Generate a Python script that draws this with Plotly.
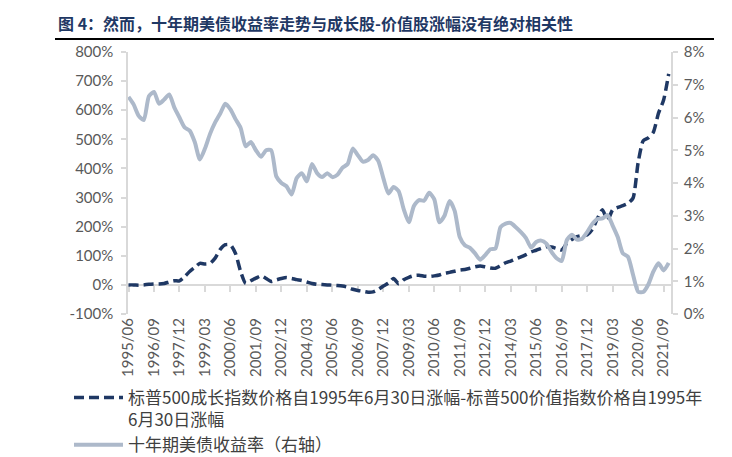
import plotly.graph_objects as go

# quarterly categories, 1995/06 .. 2021/12
quarters = [f"{1995 + (5 + 3 * i) // 12}/{(5 + 3 * i) % 12 + 1:02d}" for i in range(107)]

# S&P 500 growth minus value, % change since 1995-06-30 (left axis)
growth_minus_value = [
    0, 0, -1, 0, 2, 3, 3, 5, 10, 14,
    14, 28, 46, 60, 74, 72, 74, 92, 122, 138,
    138, 108, 46, 5, 14, 23, 31, 22, 12, 17,
    22, 25, 22, 18, 15, 10, 5, 2, 1, 0,
    -1, -2, -4, -8, -15, -19, -22, -25, -24, -16,
    -4, 6, 22, 4, 18, 26, 32, 33, 30, 29,
    31, 34, 40, 43, 47, 51, 53, 57, 62, 65,
    62, 58, 57, 66, 76, 82, 89, 96, 104, 113,
    119, 126, 131, 130, 125, 120, 143, 156, 166, 170,
    172, 190, 228, 258, 222, 258, 266, 272, 280, 298,
    420, 495, 505, 525, 590, 635, 725,
]

# US 10y treasury yield, % (right axis)
us10y = [
    6.63, 6.40, 6.05, 5.92, 6.65, 6.78, 6.42, 6.55, 6.70, 6.30,
    6.00, 5.70, 5.60, 5.25, 4.72, 5.05, 5.50, 5.85, 6.12, 6.42,
    6.25, 5.95, 5.68, 5.12, 5.25, 5.00, 4.80, 5.00, 5.00, 4.20,
    4.00, 3.90, 3.65, 4.15, 4.30, 4.05, 4.58, 4.30, 4.18, 4.30,
    4.18, 4.25, 4.47, 4.58, 5.05, 4.85, 4.65, 4.70, 4.85, 4.68,
    4.15, 3.68, 3.88, 3.75, 3.20, 2.80, 3.30, 3.48, 3.46, 3.70,
    3.50, 2.80, 3.00, 3.45, 3.15, 2.35, 2.10, 2.02, 1.85, 1.66,
    1.80, 1.98, 2.00, 2.65, 2.76, 2.78, 2.65, 2.50, 2.32, 2.03,
    2.20, 2.24, 2.15, 1.90, 1.70, 1.62, 2.25, 2.42, 2.27, 2.30,
    2.50, 2.75, 2.90, 2.92, 3.02, 2.70, 2.35, 1.85, 1.75, 1.20,
    0.68, 0.67, 0.90, 1.30, 1.55, 1.33, 1.56,
]

tick_labels = quarters[::5]
left_ticks = [-100, 0, 100, 200, 300, 400, 500, 600, 700, 800]
left_text = [f"{v}%" for v in left_ticks]

name_growth = "标普500成长指数价格自1995年6月30日涨幅-标普500价值指数价格自1995年<br>6月30日涨幅"
name_yield = "十年期美债收益率（右轴）"

NAVY = "#1F3864"
GRAYBLUE = "#ADB9CA"
AXIS = "#D9D9D9"
TXT = "#595959"
NUMFONT = "Lato, Noto Sans CJK SC, sans-serif"
XRANGE = [-0.1, 106.45]

# plot area in pixels: x 120..663, y 44..306
PW, PH = 543, 262

fig = go.Figure()

fig.add_trace(go.Scatter(
    x=quarters, y=growth_minus_value, name=name_growth,
    xaxis="x", yaxis="y", mode="lines",
    line=dict(color=NAVY, width=3.5, dash="10px,5px", shape="spline", smoothing=0.6),
))
fig.add_trace(go.Scatter(
    x=quarters, y=us10y, name=name_yield,
    xaxis="x2", yaxis="y2", mode="lines",
    line=dict(color=GRAYBLUE, width=4, shape="spline", smoothing=0.6),
))

fig.update_layout(
    width=732, height=457,
    margin=dict(l=120, r=69, t=44, b=151, autoexpand=False),
    paper_bgcolor="white", plot_bgcolor="white",
    font=dict(family=NUMFONT, color=TXT, size=14),
    title=dict(
        text="图 4：然而，十年期美债收益率走势与成长股-价值股涨幅没有绝对相关性",
        xref="container", yref="container", x=50 / 732, y=1 - 16 / 457,
        xanchor="left", yanchor="middle",
        font=dict(family="Noto Sans CJK SC", size=16, color=NAVY, weight="bold"),
    ),
    # bottom axis: labels only
    xaxis=dict(
        type="category", range=XRANGE, categoryorder="array", categoryarray=quarters,
        tickvals=tick_labels, ticktext=tick_labels,
        tickangle=-90, showline=False, ticks="", showgrid=False,
        tickfont=dict(size=15, color=TXT),
    ),
    # axis line crossing at 0%, with tick marks
    xaxis2=dict(
        type="category", range=XRANGE, categoryorder="array", categoryarray=quarters,
        overlaying="x", anchor="free", position=1 / 9,
        tickvals=tick_labels, showticklabels=False, showgrid=False,
        showline=True, linecolor=AXIS, linewidth=1.5,
        ticks="outside", ticklen=6, tickcolor=AXIS, tickwidth=1.5, layer="below traces",
    ),
    yaxis=dict(
        range=[-100, 800], tickvals=left_ticks, ticktext=left_text,
        showgrid=False, zeroline=False,
        showline=True, linecolor=AXIS, linewidth=1.5,
        ticks="outside", ticklen=5, tickcolor=AXIS, tickwidth=1.5,
        tickfont=dict(size=15, color=TXT), ticklabelstandoff=5,
    ),
    yaxis2=dict(
        range=[0, 8], dtick=1, ticksuffix="%", overlaying="y", side="right", anchor="x2",
        showgrid=False, zeroline=False,
        showline=True, linecolor=AXIS, linewidth=1.5,
        ticks="outside", ticklen=5, tickcolor=AXIS, tickwidth=1.5,
        tickfont=dict(size=15, color=TXT), ticklabelstandoff=3,
    ),
    legend=dict(
        x=(61 - 120) / PW, y=(306 - 372) / PH,
        xanchor="left", yanchor="top", orientation="v", valign="top",
        font=dict(family="Noto Sans CJK SC, Lato", size=17, color="#404040"),
        bgcolor="rgba(0,0,0,0)", tracegroupgap=0, itemwidth=49,
    ),
    shapes=[dict(
        type="line", xref="paper", yref="paper",
        x0=(47 - 120) / PW, x1=(706 - 120) / PW, y0=(306 - 31) / PH, y1=(306 - 31) / PH,
        line=dict(color="black", width=2),
    )],
)

fig.write_html("out.html")
